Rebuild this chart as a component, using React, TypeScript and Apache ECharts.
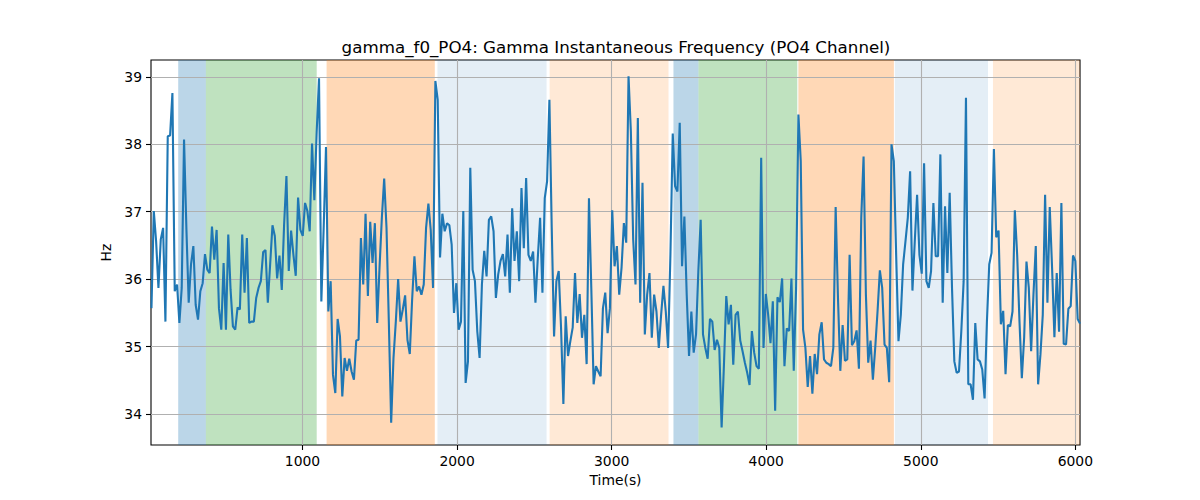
import { useEffect, useRef } from 'react'
import * as echarts from 'echarts'

// ─── data ───
const TITLE = 'gamma_f0_PO4: Gamma Instantaneous Frequency (PO4 Channel)'
const T_START = 23
const T_END = 6030
const X_MIN = 20
const X_MAX = 6030
const Y_MIN = 33.54
const Y_MAX = 39.25

const X_TICKS = [1000, 2000, 3000, 4000, 5000, 6000]
const Y_TICKS = [34, 35, 36, 37, 38, 39]

// instantaneous frequency (Hz), sampled evenly from T_START to T_END
const HZ = [
  35.57, 37.01, 36.56, 35.87, 36.59, 36.76, 35.37, 38.12, 38.13, 38.76,
  35.82, 35.92, 35.35, 35.87, 38.07, 36.76, 35.65, 36.22, 36.49, 35.62,
  35.40, 35.82, 35.94, 36.37, 36.14, 36.09, 36.78, 36.29, 36.73, 35.57,
  35.25, 36.24, 35.25, 36.66, 35.84, 35.30, 35.25, 35.58, 35.55, 36.66,
  35.80, 36.61, 35.35, 35.37, 35.37, 35.72, 35.87, 35.97, 36.40, 36.43,
  35.65, 36.22, 36.80, 36.64, 36.01, 36.35, 35.84, 36.81, 37.53, 36.12,
  36.72, 36.36, 36.05, 37.21, 36.73, 36.64, 37.13, 37.01,
  36.71, 38.01, 37.17, 38.19, 38.98, 35.67, 36.76, 37.96, 35.52, 35.97,
  34.58, 34.31, 35.41, 35.15, 34.26, 34.83, 34.64, 34.82, 34.63, 34.51,
  35.09, 35.10, 36.61, 35.92, 36.97, 35.75, 36.85, 36.24, 36.83, 35.35,
  36.17, 36.91, 37.49, 36.76, 35.37, 33.87, 34.83, 35.37, 36.00, 35.37,
  35.55, 35.76, 35.10, 34.89, 35.69, 36.34, 35.82, 35.89, 35.77, 35.92,
  36.76, 37.12, 36.73, 35.87, 38.94, 38.66, 36.32, 36.97, 36.71, 36.83,
  36.80, 36.51, 35.50, 35.94, 35.25,
  35.37, 37.01, 34.46, 34.78, 37.65, 36.14, 35.97, 35.23, 34.83, 35.92,
  36.42, 36.04, 36.88, 36.93, 36.71, 35.72, 36.07, 36.27, 36.37, 36.04,
  36.66, 35.80, 37.05, 36.27, 36.71, 35.97, 37.35, 36.46, 37.50, 36.36,
  36.27, 36.41, 35.65, 36.31, 36.91, 35.80, 37.20, 37.45, 38.66, 36.76,
  35.15, 35.97, 36.12, 35.28, 34.15, 35.45, 34.86, 35.08, 35.28, 36.09,
  35.35, 35.78, 35.13, 35.47, 34.74, 37.20, 35.87, 34.44, 34.71, 34.63,
  34.56, 35.57, 35.80, 35.20, 35.57, 37.02, 36.19,
  36.49, 35.77, 36.17, 36.83, 36.54, 39.01, 38.19, 36.59, 35.92, 38.39,
  35.65, 37.43, 35.18, 35.77, 36.09, 35.13, 35.77, 35.52, 34.98, 35.47,
  35.90, 35.52, 34.98, 36.36, 38.16, 37.38, 37.30, 38.32, 36.19, 36.93,
  35.77, 34.86, 35.52, 34.91, 35.18, 36.12, 36.88, 35.18, 34.98, 34.82,
  35.41, 35.37, 34.95, 35.10, 34.98, 33.80, 34.73, 35.75, 35.33, 35.62,
  34.73, 35.47, 35.52, 35.09, 34.93, 34.76, 34.61, 34.43, 35.23, 34.91,
  34.71, 34.67, 37.80, 34.98, 35.78, 35.47, 35.05,
  35.67, 34.05, 35.73, 35.66, 36.01, 34.71, 35.27, 35.23, 36.01, 34.64,
  35.87, 38.44, 37.75, 35.25, 34.98, 34.40, 34.86, 34.30, 34.89, 34.59,
  35.18, 35.36, 34.81, 34.76, 34.74, 34.71, 34.98, 37.07, 35.72, 34.64,
  35.32, 34.79, 34.81, 36.36, 35.02, 35.08, 35.24, 34.67, 36.91, 37.82,
  35.77, 34.76, 35.09, 34.51, 34.98, 35.52, 36.13, 35.87, 35.03, 34.98,
  34.47, 38.00, 37.75, 36.36, 35.08, 35.47, 36.22, 36.56, 36.91, 37.60,
  35.83, 36.56, 37.25, 36.36, 36.08, 37.72,
  35.97, 35.87, 36.12, 37.13, 36.34, 36.34, 37.85, 35.65, 37.08, 36.09,
  37.28, 35.87, 34.78, 34.61, 34.63, 35.23, 35.97, 38.69, 34.44, 34.44,
  34.21, 35.35, 34.81, 34.78, 34.66, 34.23, 35.37, 36.22, 36.39, 37.93,
  36.62, 36.72, 35.33, 35.53, 34.59, 35.32, 35.30, 35.52, 37.02, 36.36,
  35.37, 34.53, 35.13, 36.26, 35.87, 34.93, 35.77, 36.49, 34.44, 34.88,
  35.47, 37.25, 35.65, 37.07, 36.17, 35.14, 36.09, 35.22, 37.13, 35.04,
  35.03, 35.56, 35.60, 36.35, 36.27, 35.41, 35.34,
]

// shaded segments
const BAND_FROM = [196, 375, 1156, 1873, 2599, 3400, 3562, 4208, 4832, 5467]
const BAND_TO = [375, 1092, 1856, 2579, 3368, 3562, 4201, 4826, 5435, 6030]
const BAND_KIND = ['blue', 'green', 'orange', 'pale', 'peach', 'blue', 'green', 'orange', 'pale', 'peach']

// ─── styles ───
const BAND_COLOR: Record<string, string> = {
  blue: 'rgba(31,119,180,0.3)',
  green: 'rgba(44,160,44,0.3)',
  orange: 'rgba(255,127,14,0.3)',
  pale: 'rgba(31,119,180,0.12)',
  peach: 'rgba(255,127,14,0.17)',
}
const FONT = "'DejaVu Sans', sans-serif"

export default function App() {
  const ref = useRef<HTMLDivElement>(null)

  useEffect(() => {
    if (!ref.current) return
    document.body.style.margin = '0'
    const chart = echarts.init(ref.current, null, { renderer: 'svg' })

    const step = (T_END - T_START) / (HZ.length - 1)
    const points = HZ.map((v, i) => [T_START + i * step, v])

    const bands = BAND_FROM.map((from, i) => [
      { xAxis: from, itemStyle: { color: BAND_COLOR[BAND_KIND[i]] } },
      { xAxis: BAND_TO[i] },
    ])

    const tickLabel = { fontFamily: FONT, fontSize: 13.9, color: '#000' }

    chart.setOption({
      animation: false,
      title: {
        text: TITLE,
        left: 611,
        top: 33,
        textAlign: 'center',
        textStyle: { fontFamily: FONT, fontSize: 16.7, fontWeight: 'normal', color: '#000' },
      },
      grid: {
        left: 151, right: 120, top: 60, bottom: 55,
        show: true, borderColor: '#000', borderWidth: 1.1, backgroundColor: 'transparent',
      },
      xAxis: {
        type: 'value', min: X_MIN, max: X_MAX, z: 1.5,
        name: 'Time(s)', nameLocation: 'middle', nameGap: 28,
        nameTextStyle: tickLabel,
        axisLine: { show: false },
        axisTick: { show: true, customValues: X_TICKS, length: 5, lineStyle: { color: '#000', width: 1.1 } },
        axisLabel: { customValues: X_TICKS, margin: 9, formatter: (v: number) => String(v), ...tickLabel },
        splitLine: { show: true, lineStyle: { color: '#b0b0b0', width: 1.1 } },
      },
      yAxis: {
        type: 'value', min: Y_MIN, max: Y_MAX, z: 1.5,
        name: 'Hz', nameLocation: 'middle', nameGap: 36,
        nameTextStyle: tickLabel,
        axisLine: { show: false },
        axisTick: { show: true, customValues: Y_TICKS, length: 5, lineStyle: { color: '#000', width: 1.1 } },
        axisLabel: { customValues: Y_TICKS, margin: 9, formatter: (v: number) => String(v), ...tickLabel },
        splitLine: { show: true, lineStyle: { color: '#b0b0b0', width: 1.1 } },
      },
      series: [
        {
          type: 'line',
          data: points,
          z: 3,
          showSymbol: false,
          lineStyle: { color: '#1f77b4', width: 2.1 },
          markArea: { silent: true, z: 1, data: bands },
        },
      ],
    })

    return () => chart.dispose()
  }, [])

  return <div ref={ref} style={{ width: 1200, height: 500 }} />
}
